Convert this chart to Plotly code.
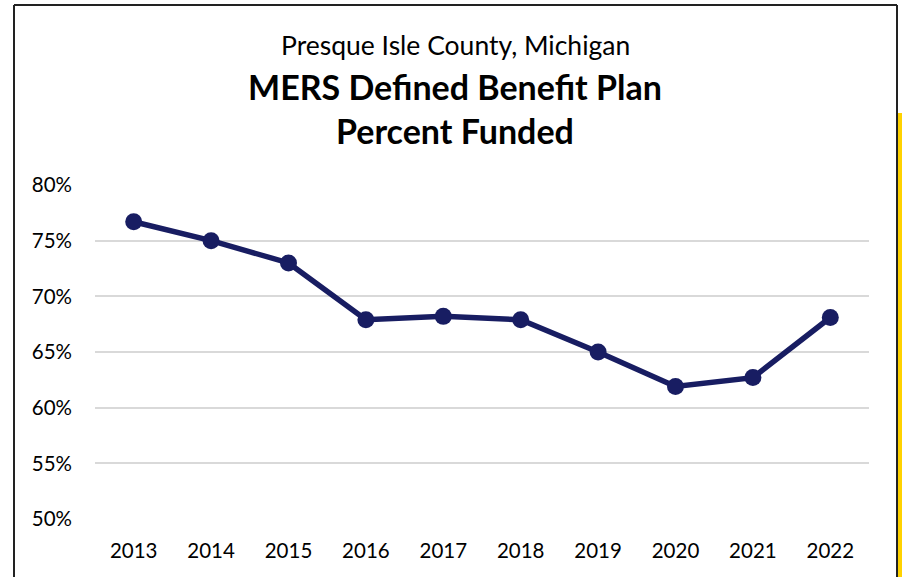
import plotly.graph_objects as go

years = ["2013", "2014", "2015", "2016", "2017", "2018", "2019", "2020", "2021", "2022"]
funded = [76.7, 75.0, 73.0, 67.9, 68.2, 67.9, 65.0, 61.9, 62.7, 68.1]
y_ticks = [50, 55, 60, 65, 70, 75, 80]
y_tick_labels = ["50%", "55%", "60%", "65%", "70%", "75%", "80%"]

W, H = 902, 577
L, R, T, B = 95, 33, 185, 58
pw, ph = W - L - R, H - T - B

def px(x):
    return (x - L) / pw

def py(y):
    return 1 - (y - T) / ph

FONT = "Lato"
NAVY = "#181d62"
TICK = 20.5

fig = go.Figure()
fig.add_trace(go.Scatter(
    x=years, y=funded, mode="lines+markers",
    line=dict(color=NAVY, width=5.5),
    marker=dict(color=NAVY, size=17),
    cliponaxis=False, showlegend=False,
))

fig.update_layout(
    width=W, height=H,
    margin=dict(l=L, r=R, t=T, b=B),
    paper_bgcolor="white", plot_bgcolor="white",
    font=dict(family=FONT, color="black", size=TICK),
    xaxis=dict(type="category", range=[-0.5, len(years) - 0.5],
               showgrid=False, zeroline=False, showline=False,
               ticks="", tickfont=dict(size=TICK), ticklabelstandoff=17),
    yaxis=dict(range=[50, 80], tickvals=y_ticks, ticktext=y_tick_labels,
               showgrid=True, gridcolor="#d9d9d9", gridwidth=2,
               zeroline=False, showline=False, ticks="",
               tickfont=dict(size=TICK), ticklabelstandoff=22),
    annotations=[
        dict(text="Presque Isle County, Michigan", x=px(455), y=py(45),
             xref="paper", yref="paper", showarrow=False,
             font=dict(size=26.5, family=FONT), xanchor="center", yanchor="middle"),
        dict(text="<b>MERS Defined Benefit Plan</b>", x=px(455), y=py(86),
             xref="paper", yref="paper", showarrow=False,
             font=dict(size=34, family=FONT), xanchor="center", yanchor="middle"),
        dict(text="<b>Percent Funded</b>", x=px(455), y=py(130),
             xref="paper", yref="paper", showarrow=False,
             font=dict(size=34, family=FONT), xanchor="center", yanchor="middle"),
    ],
    shapes=[
        dict(type="line", xref="paper", yref="paper", x0=px(14), x1=px(14),
             y0=py(5), y1=py(600), line=dict(color="#222", width=2)),
        dict(type="line", xref="paper", yref="paper", x0=px(14), x1=px(897),
             y0=py(5), y1=py(5), line=dict(color="#222", width=2)),
        dict(type="line", xref="paper", yref="paper", x0=px(897), x1=px(897),
             y0=py(5), y1=py(600), line=dict(color="#222", width=2)),
        dict(type="rect", xref="paper", yref="paper", x0=px(898), x1=px(903),
             y0=py(113), y1=py(600), line=dict(width=0), fillcolor="#ffd200"),
    ],
)

fig.write_html(
    "out.html",
    config={"displayModeBar": False},
    post_script="document.body.style.margin='0';document.body.style.overflow='hidden';",
)
